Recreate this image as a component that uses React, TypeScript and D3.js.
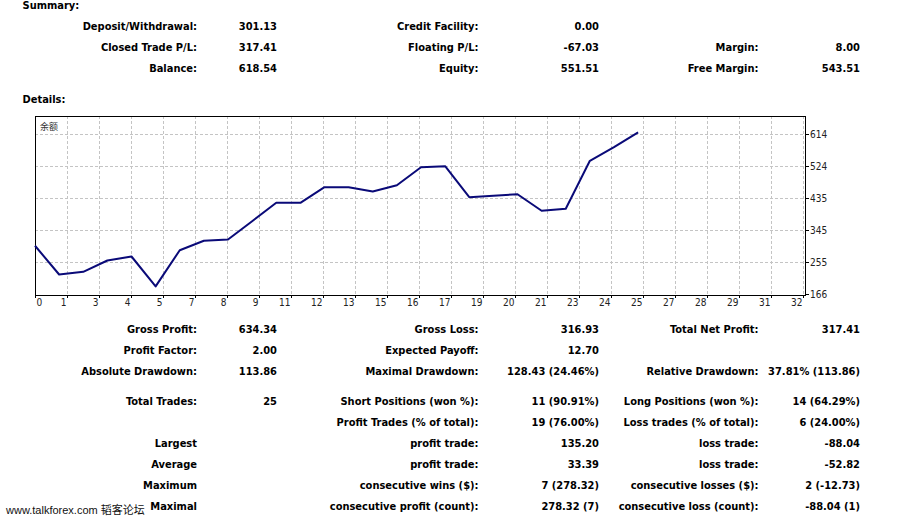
import React from "react";
import * as d3 from "d3";

// ---------- data ----------
const trades = [0, 1, 2, 3, 4, 5, 6, 7, 8, 9, 10, 11, 12, 13, 14, 15, 16, 17, 18, 19, 20, 21, 22, 23, 24, 25];
const balance = [
  301.13, 220.6, 228.2, 259.8, 271.0, 187.27, 288.6, 315.0, 318.6, 369.8,
  421.4, 421.4, 465.0, 465.0, 453.0, 470.6, 521.0, 523.8, 437.0, 441.0,
  445.4, 399.0, 404.6, 539.0, 577.0, 618.54,
];
const xTickLabels = [0, 1, 3, 4, 5, 7, 8, 9, 11, 12, 13, 15, 16, 17, 19, 20, 21, 23, 24, 25, 27, 28, 29, 31, 32];
const yTicks = [166, 255, 345, 435, 524, 614];
const seriesName = "余额";

const summaryLabels1 = ["Deposit/Withdrawal:", "Closed Trade P/L:", "Balance:"];
const summaryValues1 = ["301.13", "317.41", "618.54"];
const summaryLabels2 = ["Credit Facility:", "Floating P/L:", "Equity:"];
const summaryValues2 = ["0.00", "-67.03", "551.51"];
const summaryLabels3 = ["", "Margin:", "Free Margin:"];
const summaryValues3 = ["", "8.00", "543.51"];

const detailLabels1 = ["Gross Profit:", "Profit Factor:", "Absolute Drawdown:", "Total Trades:", "", "Largest", "Average", "Maximum", "Maximal"];
const detailValues1 = ["634.34", "2.00", "113.86", "25", "", "", "", "", ""];
const detailLabels2 = ["Gross Loss:", "Expected Payoff:", "Maximal Drawdown:", "Short Positions (won %):", "Profit Trades (% of total):", "profit trade:", "profit trade:", "consecutive wins ($):", "consecutive profit (count):"];
const detailValues2 = ["316.93", "12.70", "128.43 (24.46%)", "11 (90.91%)", "19 (76.00%)", "135.20", "33.39", "7 (278.32)", "278.32 (7)"];
const detailLabels3 = ["Total Net Profit:", "", "Relative Drawdown:", "Long Positions (won %):", "Loss trades (% of total):", "loss trade:", "loss trade:", "consecutive losses ($):", "consecutive loss (count):"];
const detailValues3 = ["317.41", "", "37.81% (113.86)", "14 (64.29%)", "6 (24.00%)", "-88.04", "-52.82", "2 (-12.73)", "-88.04 (1)"];

const watermark = "www.talkforex.com 韬客论坛";

// ---------- layout ----------
const W = 923;
const H = 521;
const FONT = "'DejaVu Sans Condensed', 'DejaVu Sans', sans-serif";
const SMALL_FONT = "'DejaVu Sans Condensed', 'DejaVu Sans', 'Noto Sans CJK SC', sans-serif";
const plot = { left: 35, right: 805, top: 116, bottom: 295 };
const colRight = [197, 277, 478.5, 599, 758.5, 860];
const summaryBase = 30;
const summaryStep = 21;
const detailBaselines = [333, 354, 375, 405, 426, 447, 468, 489, 510];

export default function App() {
  const x = d3.scaleLinear().domain([0, 32]).range([plot.left, 807]);
  const gridX = d3.scaleLinear().domain([0, 24]).range([plot.left, plot.left + 24 * 32]);
  const y = d3.scaleLinear().domain([166, 614]).range([294, 134]);
  const line = d3
    .line<number>()
    .x((_, i) => x(trades[i]))
    .y((d) => y(d));

  const textCols = (
    labels: string[][],
    values: string[][],
    baselines: number[]
  ) =>
    labels.map((col, c) =>
      col.map((t, r) => (
        <g key={`c${c}-${r}`}>
          {t && (
            <text x={colRight[c * 2]} y={baselines[r]} textAnchor="end">
              {t}
            </text>
          )}
          {values[c][r] && (
            <text x={colRight[c * 2 + 1]} y={baselines[r]} textAnchor="end">
              {values[c][r]}
            </text>
          )}
        </g>
      ))
    );

  const summaryBaselines = summaryLabels1.map((_, i) => summaryBase + i * summaryStep);

  return (
    <div style={{ position: "absolute", left: 0, top: 0 }}>
      <svg width={W} height={H} style={{ display: "block", background: "#fff" }}>
        <rect x={0} y={0} width={W} height={H} fill="#fff" />
        <g fontFamily={FONT} fontWeight="bold" fontSize={11} fill="#000" style={{ fontStretch: "condensed" }}>
          <text x={22.5} y={9}>Summary:</text>
          <text x={22.5} y={102.5}>Details:</text>
          {textCols(
            [summaryLabels1, summaryLabels2, summaryLabels3],
            [summaryValues1, summaryValues2, summaryValues3],
            summaryBaselines
          )}
          {textCols(
            [detailLabels1, detailLabels2, detailLabels3],
            [detailValues1, detailValues2, detailValues3],
            detailBaselines
          )}
        </g>

        {/* chart */}
        <g>
          {gridX.ticks(24).filter((i) => i > 0).map((i) => (
            <line
              key={`gx${i}`}
              x1={Math.round(gridX(i)) + 0.5}
              x2={Math.round(gridX(i)) + 0.5}
              y1={plot.top}
              y2={plot.bottom}
              stroke="#c4c4c4"
              strokeDasharray="3,2"
            />
          ))}
          {yTicks.filter((v) => v > 166).map((v) => (
            <line
              key={`gy${v}`}
              x1={plot.left}
              x2={plot.right}
              y1={Math.round(y(v)) + 0.5}
              y2={Math.round(y(v)) + 0.5}
              stroke="#c4c4c4"
              strokeDasharray="3,2"
            />
          ))}
          <rect
            x={plot.left + 0.5}
            y={plot.top + 0.5}
            width={plot.right - plot.left}
            height={plot.bottom - plot.top}
            fill="none"
            stroke="#000"
          />
          {/* right axis */}
          {yTicks.map((v) => (
            <g key={`yt${v}`}>
              <line
                x1={plot.right + 0.5}
                x2={plot.right + 4}
                y1={Math.round(y(v)) + 0.5}
                y2={Math.round(y(v)) + 0.5}
                stroke="#000"
              />
              <text
                x={plot.right + 5}
                y={y(v) + 3.7}
                fontFamily={SMALL_FONT}
                fontSize={10}
                fill="#222"
                style={{ fontStretch: "condensed" }}
              >
                {v}
              </text>
            </g>
          ))}
          {/* bottom axis */}
          {xTickLabels.map((lab, i) => (
            <g key={`xt${i}`}>
              <line
                x1={Math.round(gridX(i)) + 0.5}
                x2={Math.round(gridX(i)) + 0.5}
                y1={plot.bottom}
                y2={plot.bottom + 3}
                stroke="#000"
              />
              <text
                x={i === 0 ? gridX(i) + 1.5 : gridX(i) - 0.5}
                y={305.5}
                textAnchor={i === 0 ? "start" : "end"}
                fontFamily={SMALL_FONT}
                fontSize={10}
                fill="#222"
                style={{ fontStretch: "condensed" }}
              >
                {lab}
              </text>
            </g>
          ))}
          <text
            x={40}
            y={129.5}
            fontFamily="'Noto Sans CJK SC', sans-serif"
            fontSize={9}
            fill="#333"
          >
            {seriesName}
          </text>
          <path d={line(balance) ?? ""} fill="none" stroke="#0a0a78" strokeWidth={2} strokeLinejoin="round" />
        </g>

        <text
          x={6}
          y={514}
          fontFamily="'Liberation Sans', 'Noto Sans CJK SC', sans-serif"
          fontSize={11}
          fill="#111"
        >
          {watermark}
        </text>
      </svg>
    </div>
  );
}
